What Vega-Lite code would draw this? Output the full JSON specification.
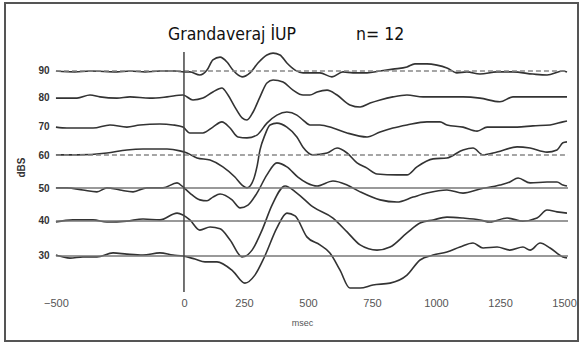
{
"$schema": "https://vega.github.io/schema/vega-lite/v6.json",
"width": 573, "height": 338,
"autosize": {"type": "none"},
"padding": {"left": 5, "top": 3, "right": 3, "bottom": 3},
"background": "white",
"config": {"view": {"stroke": "#555", "strokeWidth": 2}, "font": "Liberation Sans"},
"title": {"text": "Grandaveraj İUP\u00a0\u00a0\u00a0\u00a0\u00a0\u00a0\u00a0\u00a0\u00a0\u00a0\u00a0\u00a0n= 12", "anchor": "start", "frame": "group", "dx": 163, "offset": -40, "fontSize": 17.5, "font": "DejaVu Sans Condensed", "fontWeight": "normal", "color": "#111"},
"datasets": {
"baselines": [
{"level": "90", "base": 90}, {"level": "60", "base": 62.75}, {"level": "50", "base": 52.05}, {"level": "40", "base": 41.35}, {"level": "30", "base": 30}
],
"onset": [{"t": 0, "top": 96.16, "bottom": 18.32}],
"traces": [
{"s":"90","t":-500,"v":90.0},{"s":"90","t":-426,"v":89.7},{"s":"90","t":-367,"v":90.0},{"s":"90","t":-262,"v":89.7},{"s":"90","t":-211,"v":90.0},{"s":"90","t":-152,"v":89.7},{"s":"90","t":-94,"v":90.0},{"s":"90","t":-35,"v":90.0},{"s":"90","t":0,"v":89.7},{"s":"90","t":23,"v":89.7},{"s":"90","t":62,"v":88.7},{"s":"90","t":90,"v":90.3},{"s":"90","t":113,"v":93.6},{"s":"90","t":141,"v":94.5},{"s":"90","t":168,"v":92.9},{"s":"90","t":191,"v":90.3},{"s":"90","t":227,"v":88.1},{"s":"90","t":258,"v":89.4},{"s":"90","t":289,"v":92.6},{"s":"90","t":324,"v":95.2},{"s":"90","t":348,"v":95.8},{"s":"90","t":375,"v":95.2},{"s":"90","t":402,"v":92.6},{"s":"90","t":434,"v":90.3},{"s":"90","t":465,"v":89.4},{"s":"90","t":531,"v":89.4},{"s":"90","t":578,"v":88.1},{"s":"90","t":621,"v":89.7},{"s":"90","t":660,"v":89.4},{"s":"90","t":715,"v":89.4},{"s":"90","t":766,"v":90.0},{"s":"90","t":816,"v":90.6},{"s":"90","t":871,"v":91.3},{"s":"90","t":902,"v":92.3},{"s":"90","t":949,"v":92.3},{"s":"90","t":988,"v":91.9},{"s":"90","t":1027,"v":91.0},{"s":"90","t":1066,"v":89.4},{"s":"90","t":1105,"v":89.7},{"s":"90","t":1156,"v":89.0},{"s":"90","t":1223,"v":89.7},{"s":"90","t":1285,"v":89.7},{"s":"90","t":1363,"v":89.0},{"s":"90","t":1418,"v":88.7},{"s":"90","t":1480,"v":90.0},{"s":"90","t":1496,"v":89.7},
{"s":"80","t":-500,"v":81.2},{"s":"80","t":-418,"v":81.2},{"s":"80","t":-367,"v":82.2},{"s":"80","t":-328,"v":81.6},{"s":"80","t":-262,"v":81.2},{"s":"80","t":-211,"v":81.6},{"s":"80","t":-133,"v":81.2},{"s":"80","t":-66,"v":81.6},{"s":"80","t":-4,"v":82.2},{"s":"80","t":35,"v":80.6},{"s":"80","t":74,"v":81.2},{"s":"80","t":113,"v":83.2},{"s":"80","t":148,"v":84.5},{"s":"80","t":172,"v":82.2},{"s":"80","t":199,"v":78.3},{"s":"80","t":227,"v":74.8},{"s":"80","t":246,"v":74.1},{"s":"80","t":270,"v":76.7},{"s":"80","t":297,"v":81.6},{"s":"80","t":324,"v":86.1},{"s":"80","t":348,"v":87.1},{"s":"80","t":387,"v":86.4},{"s":"80","t":426,"v":83.8},{"s":"80","t":465,"v":82.2},{"s":"80","t":492,"v":82.2},{"s":"80","t":520,"v":83.2},{"s":"80","t":559,"v":83.8},{"s":"80","t":598,"v":82.2},{"s":"80","t":648,"v":79.0},{"s":"80","t":688,"v":78.3},{"s":"80","t":727,"v":79.6},{"s":"80","t":766,"v":80.6},{"s":"80","t":816,"v":81.6},{"s":"80","t":871,"v":82.2},{"s":"80","t":934,"v":81.6},{"s":"80","t":1000,"v":81.6},{"s":"80","t":1090,"v":81.6},{"s":"80","t":1156,"v":81.2},{"s":"80","t":1234,"v":80.0},{"s":"80","t":1285,"v":81.6},{"s":"80","t":1352,"v":81.6},{"s":"80","t":1418,"v":81.6},{"s":"80","t":1496,"v":81.6},
{"s":"70","t":-500,"v":71.8},{"s":"70","t":-457,"v":71.5},{"s":"70","t":-355,"v":71.5},{"s":"70","t":-289,"v":72.5},{"s":"70","t":-223,"v":71.8},{"s":"70","t":-172,"v":72.5},{"s":"70","t":-94,"v":72.8},{"s":"70","t":-43,"v":72.5},{"s":"70","t":-4,"v":71.8},{"s":"70","t":23,"v":69.9},{"s":"70","t":74,"v":69.9},{"s":"70","t":113,"v":71.8},{"s":"70","t":148,"v":73.5},{"s":"70","t":180,"v":71.5},{"s":"70","t":211,"v":68.6},{"s":"70","t":246,"v":68.3},{"s":"70","t":285,"v":69.2},{"s":"70","t":324,"v":73.1},{"s":"70","t":363,"v":75.7},{"s":"70","t":402,"v":76.7},{"s":"70","t":441,"v":75.7},{"s":"70","t":465,"v":74.1},{"s":"70","t":492,"v":72.5},{"s":"70","t":531,"v":72.5},{"s":"70","t":582,"v":71.5},{"s":"70","t":637,"v":69.9},{"s":"70","t":715,"v":68.6},{"s":"70","t":766,"v":70.2},{"s":"70","t":816,"v":71.5},{"s":"70","t":871,"v":72.5},{"s":"70","t":949,"v":73.5},{"s":"70","t":1000,"v":73.5},{"s":"70","t":1027,"v":72.5},{"s":"70","t":1090,"v":71.8},{"s":"70","t":1145,"v":70.5},{"s":"70","t":1184,"v":71.8},{"s":"70","t":1234,"v":71.8},{"s":"70","t":1301,"v":71.8},{"s":"70","t":1363,"v":72.2},{"s":"70","t":1430,"v":72.5},{"s":"70","t":1480,"v":73.5},{"s":"70","t":1496,"v":73.8},
{"s":"60","t":-500,"v":62.8},{"s":"60","t":-418,"v":62.8},{"s":"60","t":-301,"v":63.4},{"s":"60","t":-223,"v":64.4},{"s":"60","t":-160,"v":64.7},{"s":"60","t":-66,"v":64.7},{"s":"60","t":-16,"v":64.1},{"s":"60","t":12,"v":63.4},{"s":"60","t":51,"v":61.8},{"s":"60","t":102,"v":61.1},{"s":"60","t":152,"v":58.9},{"s":"60","t":199,"v":55.6},{"s":"60","t":227,"v":53.0},{"s":"60","t":246,"v":52.1},{"s":"60","t":266,"v":53.7},{"s":"60","t":285,"v":58.9},{"s":"60","t":297,"v":64.4},{"s":"60","t":316,"v":69.2},{"s":"60","t":336,"v":72.5},{"s":"60","t":363,"v":73.1},{"s":"60","t":402,"v":71.8},{"s":"60","t":441,"v":68.6},{"s":"60","t":465,"v":65.3},{"s":"60","t":504,"v":62.8},{"s":"60","t":559,"v":63.4},{"s":"60","t":598,"v":65.0},{"s":"60","t":637,"v":63.4},{"s":"60","t":676,"v":60.2},{"s":"60","t":715,"v":58.5},{"s":"60","t":754,"v":56.6},{"s":"60","t":832,"v":56.3},{"s":"60","t":871,"v":56.3},{"s":"60","t":910,"v":58.9},{"s":"60","t":973,"v":61.5},{"s":"60","t":1027,"v":61.8},{"s":"60","t":1090,"v":64.4},{"s":"60","t":1129,"v":65.0},{"s":"60","t":1168,"v":62.8},{"s":"60","t":1223,"v":63.7},{"s":"60","t":1301,"v":65.4},{"s":"60","t":1352,"v":65.0},{"s":"60","t":1418,"v":63.7},{"s":"60","t":1457,"v":64.4},{"s":"60","t":1480,"v":66.7},{"s":"60","t":1496,"v":67.0},
{"s":"50","t":-500,"v":52.1},{"s":"50","t":-457,"v":52.1},{"s":"50","t":-395,"v":51.4},{"s":"50","t":-340,"v":50.8},{"s":"50","t":-301,"v":52.1},{"s":"50","t":-250,"v":51.4},{"s":"50","t":-199,"v":50.8},{"s":"50","t":-145,"v":52.1},{"s":"50","t":-82,"v":52.1},{"s":"50","t":-27,"v":53.7},{"s":"50","t":-4,"v":52.4},{"s":"50","t":23,"v":50.4},{"s":"50","t":62,"v":48.2},{"s":"50","t":90,"v":47.9},{"s":"50","t":113,"v":49.1},{"s":"50","t":141,"v":50.1},{"s":"50","t":188,"v":48.2},{"s":"50","t":219,"v":45.6},{"s":"50","t":250,"v":46.5},{"s":"50","t":285,"v":50.4},{"s":"50","t":324,"v":56.3},{"s":"50","t":363,"v":60.2},{"s":"50","t":402,"v":58.9},{"s":"50","t":445,"v":55.6},{"s":"50","t":480,"v":53.7},{"s":"50","t":520,"v":52.7},{"s":"50","t":582,"v":54.3},{"s":"50","t":637,"v":53.0},{"s":"50","t":688,"v":50.8},{"s":"50","t":766,"v":48.2},{"s":"50","t":832,"v":47.5},{"s":"50","t":895,"v":49.1},{"s":"50","t":949,"v":50.4},{"s":"50","t":1027,"v":51.4},{"s":"50","t":1090,"v":50.4},{"s":"50","t":1156,"v":51.7},{"s":"50","t":1234,"v":53.0},{"s":"50","t":1273,"v":54.0},{"s":"50","t":1305,"v":55.3},{"s":"50","t":1352,"v":53.7},{"s":"50","t":1418,"v":54.0},{"s":"50","t":1457,"v":54.0},{"s":"50","t":1480,"v":53.0},{"s":"50","t":1496,"v":52.7},
{"s":"40","t":-500,"v":41.0},{"s":"40","t":-434,"v":41.7},{"s":"40","t":-355,"v":41.7},{"s":"40","t":-301,"v":41.0},{"s":"40","t":-223,"v":41.3},{"s":"40","t":-160,"v":42.0},{"s":"40","t":-94,"v":41.7},{"s":"40","t":-27,"v":43.9},{"s":"40","t":-4,"v":43.3},{"s":"40","t":23,"v":41.7},{"s":"40","t":62,"v":38.4},{"s":"40","t":102,"v":39.4},{"s":"40","t":141,"v":38.8},{"s":"40","t":180,"v":35.2},{"s":"40","t":227,"v":29.7},{"s":"40","t":266,"v":31.9},{"s":"40","t":305,"v":38.4},{"s":"40","t":344,"v":46.5},{"s":"40","t":395,"v":52.7},{"s":"40","t":441,"v":50.4},{"s":"40","t":504,"v":45.9},{"s":"40","t":582,"v":42.3},{"s":"40","t":637,"v":37.8},{"s":"40","t":688,"v":33.6},{"s":"40","t":754,"v":31.9},{"s":"40","t":805,"v":32.9},{"s":"40","t":871,"v":37.5},{"s":"40","t":922,"v":40.7},{"s":"40","t":973,"v":41.7},{"s":"40","t":1027,"v":42.6},{"s":"40","t":1090,"v":42.3},{"s":"40","t":1156,"v":41.7},{"s":"40","t":1195,"v":41.0},{"s":"40","t":1262,"v":42.3},{"s":"40","t":1324,"v":41.3},{"s":"40","t":1379,"v":42.3},{"s":"40","t":1418,"v":44.9},{"s":"40","t":1457,"v":44.3},{"s":"40","t":1496,"v":43.9},
{"s":"30","t":-500,"v":30.3},{"s":"30","t":-445,"v":29.3},{"s":"30","t":-395,"v":29.7},{"s":"30","t":-340,"v":29.7},{"s":"30","t":-277,"v":31.0},{"s":"30","t":-223,"v":30.6},{"s":"30","t":-160,"v":30.3},{"s":"30","t":-94,"v":31.0},{"s":"30","t":-43,"v":30.3},{"s":"30","t":-4,"v":30.0},{"s":"30","t":43,"v":29.0},{"s":"30","t":82,"v":28.1},{"s":"30","t":129,"v":28.1},{"s":"30","t":191,"v":25.1},{"s":"30","t":238,"v":21.2},{"s":"30","t":277,"v":23.8},{"s":"30","t":316,"v":30.0},{"s":"30","t":363,"v":39.1},{"s":"30","t":402,"v":43.9},{"s":"30","t":434,"v":43.0},{"s":"30","t":480,"v":36.2},{"s":"30","t":531,"v":33.6},{"s":"30","t":570,"v":31.0},{"s":"30","t":609,"v":25.5},{"s":"30","t":648,"v":19.6},{"s":"30","t":688,"v":19.6},{"s":"30","t":738,"v":20.6},{"s":"30","t":805,"v":21.2},{"s":"30","t":871,"v":23.8},{"s":"30","t":922,"v":28.7},{"s":"30","t":973,"v":30.3},{"s":"30","t":1027,"v":31.3},{"s":"30","t":1078,"v":32.9},{"s":"30","t":1129,"v":34.2},{"s":"30","t":1168,"v":32.6},{"s":"30","t":1223,"v":32.9},{"s":"30","t":1273,"v":31.9},{"s":"30","t":1324,"v":32.9},{"s":"30","t":1352,"v":31.9},{"s":"30","t":1391,"v":34.2},{"s":"30","t":1430,"v":32.6},{"s":"30","t":1480,"v":29.7},{"s":"30","t":1496,"v":29.4}
]
},
"layer": [
{
"data": {"name": "traces"},
"mark": {"type": "line", "stroke": "#333", "strokeWidth": 1.6, "interpolate": "monotone"},
"encoding": {
"x": {"field": "t", "type": "quantitative", "title": "msec", "scale": {"domain": [-699, 1539], "nice": false, "zero": false},
"axis": {"values": [-500, 0, 250, 500, 750, 1000, 1250, 1500], "format": "d", "domain": false, "ticks": false, "grid": false, "offset": -45, "labelPadding": 1, "labelOffset": {"condition": {"test": "datum.value > 0", "value": -4}, "value": 0}, "labelFontSize": 11, "labelColor": "#555", "labelFlush": false, "titleFontSize": 9, "titleFontWeight": "normal", "titleColor": "#555", "titlePadding": 10, "titleX": 297}},
"y": {"field": "v", "type": "quantitative", "title": "dBS", "scale": {"domain": [2.43, 112.05], "nice": false, "zero": false},
"axis": {"values": [30, 41.35, 52.05, 62.75, 71.84, 81.24, 90], "labelExpr": "format(round(datum.value/10)*10, 'd')", "domain": false, "ticks": false, "grid": false, "offset": -46, "labelPadding": 2, "labelFontSize": 10, "labelFontWeight": "bold", "labelColor": "#333", "titleFontSize": 10, "titleFontWeight": "bold", "titleColor": "#333", "titlePadding": 11, "titleY": 164}},
"detail": {"field": "s", "type": "nominal"}
}
},
{
"data": {"name": "baselines"},
"transform": [{"filter": "datum.level == '90' || datum.level == '60'"}],
"mark": {"type": "rule", "stroke": "#888", "strokeWidth": 1.4, "strokeDash": [5, 3]},
"encoding": {
"x": {"datum": -500, "type": "quantitative"},
"x2": {"datum": 1500},
"y": {"field": "base", "type": "quantitative", "title": "dBS"}
}
},
{
"data": {"name": "baselines"},
"transform": [{"filter": "datum.level == '50' || datum.level == '40' || datum.level == '30'"}],
"mark": {"type": "rule", "stroke": "#777", "strokeWidth": 1.4},
"encoding": {
"x": {"datum": -500, "type": "quantitative"},
"x2": {"datum": 1500},
"y": {"field": "base", "type": "quantitative", "title": "dBS"}
}
},
{
"data": {"name": "onset"},
"mark": {"type": "rule", "stroke": "#444", "strokeWidth": 1.5},
"encoding": {
"x": {"field": "t", "type": "quantitative", "title": "msec"},
"y": {"field": "top", "type": "quantitative", "title": "dBS"},
"y2": {"field": "bottom"}
}
}
]
}
